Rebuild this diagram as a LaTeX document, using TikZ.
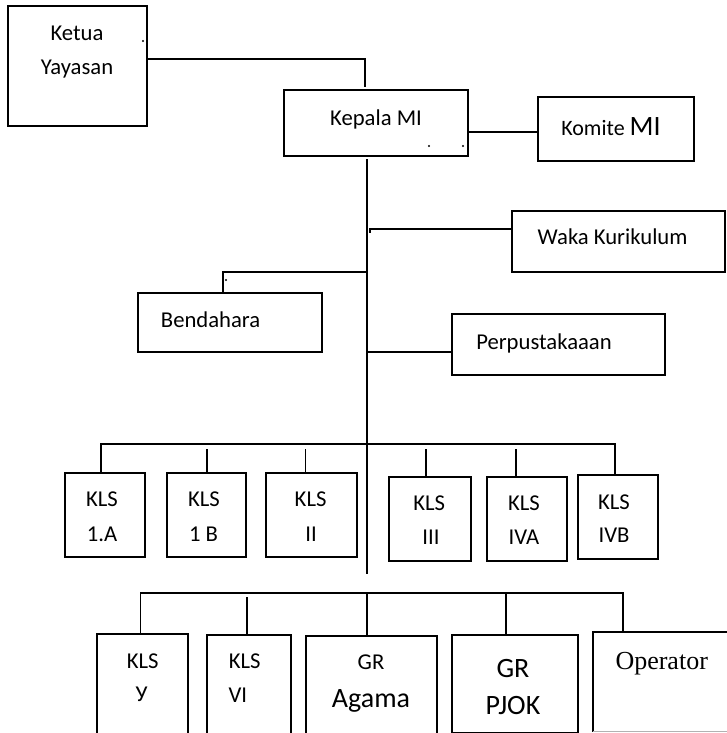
\documentclass[tikz,border=0pt]{standalone}
\usepackage{fontspec}
\setmainfont{Carlito}
\newfontfamily\opfont{Liberation Serif}
\begin{document}
\begin{tikzpicture}[x=0.75pt,y=-0.75pt]
\tikzset{
  box/.style={draw, line width=1.5pt, inner sep=0pt, outer sep=0pt},
  openbox/.style={draw=none, inner sep=0pt, outer sep=0pt},
  conn/.style={line width=1.35pt},
  txt/.style={inner sep=0pt, outer sep=0pt, text height=10.95pt, text depth=0pt, font=\fontsize{17}{20}\selectfont},
  bigtxt/.style={txt, text height=13.5pt, font=\fontsize{21}{24}\selectfont},
}
\newcommand\obox[6][box]{\node[#1,minimum width=#5*0.75pt,minimum height=#6*0.75pt] (#2) at (#3,#4) {};}
\useasboundingbox (0,0) rectangle (727,733);
\fill[white] (0,0) rectangle (727,733);
\clip (0,0) rectangle (727,733);
% boxes
\obox{ketua}{77.25}{66}{138.5}{120}
\obox{kepala}{376}{123}{184}{65.4}
\obox{komite}{616}{129}{156}{64.6}
\obox{waka}{618.5}{241.2}{213}{61}
\obox{bend}{230.2}{322.5}{184.4}{58.4}
\obox{perpus}{558.5}{344.5}{213}{61}
\obox{k1a}{105}{514.7}{80}{84}
\obox{k1b}{206.5}{515}{79}{84.6}
\obox{k2}{311.3}{514.9}{91.4}{84.3}
\obox{k3}{429.75}{518.9}{82.5}{84.3}
\obox{k4a}{527}{518.9}{80}{84.3}
\obox{k4b}{617.8}{516.9}{80.4}{84.3}
\obox{k5}{142.5}{689.5}{90.4}{111}
\obox{k6}{249}{689.9}{83.4}{110.3}
\obox{agama}{371.35}{690.35}{130.7}{109.3}
\obox{pjok}{515}{683.5}{125.4}{98}
\obox[openbox]{oper}{666.35}{681.9}{147.3}{99.2}
\draw[line width=1.5pt] (oper.south west) -- (oper.north west) -- (oper.north east);
\draw[line width=1pt, gray!60] (oper.south west) -- (oper.south east);
% texts
\node[txt] (t-ketua) at (77,33) {Ketua};
\node[txt] (t-yayasan) at (77,67) {Yayasan};
\node[txt] (t-kepala) at (376,118) {Kepala MI};
\node[txt, text height=10.6pt, font=\fontsize{16.5}{20}\selectfont] (t-komite) at (611,128.7) {Komite {\fontsize{21}{24}\selectfont MI}};
\node[txt] (t-waka) at (612.6,236.7) {Waka Kurikulum};
\node[txt] (t-bend) at (210.6,320) {Bendahara};
\node[txt] (t-perpus) at (544,341.7) {Perpustakaaan};
\node[txt] (t-1a-a) at (102,499.5) {KLS};
\node[txt] (t-1a-b) at (102,534.5) {1.A};
\node[txt] (t-1b-a) at (204,499.5) {KLS};
\node[txt] (t-1b-b) at (203.5,534.5) {1 B};
\node[txt] (t-2-a) at (310.6,499.5) {KLS};
\node[txt] (t-2-b) at (311,534.5) {II};
\node[txt] (t-3-a) at (429.3,503.3) {KLS};
\node[txt] (t-3-b) at (431,537) {III};
\node[txt] (t-4a-a) at (524,503.3) {KLS};
\node[txt] (t-4a-b) at (524,537) {IVA};
\node[txt] (t-4b-a) at (614,501.7) {KLS};
\node[txt] (t-4b-b) at (614,535) {IVB};
\node[txt] (t-5-a) at (142.8,660.8) {KLS};
\node[txt] (t-5-b) at (141.7,694.3) {У};
\node[txt] (t-6-a) at (244.7,660.8) {KLS};
\node[txt, anchor=west] (t-6-b) at (228.5,695) {VI};
\node[txt] (t-ag-a) at (371,661.7) {GR};
\node[bigtxt] (t-ag-b) at (371,698) {Agama};
\node[bigtxt] (t-pj-a) at (513,668.3) {GR};
\node[bigtxt] (t-pj-b) at (513,705) {PJOK};
\node[txt, text height=12.9pt, font=\opfont\fontsize{19.5}{22}\selectfont] (t-oper) at (661.7,660.8) {Operator};
% connectors
\coordinate (j1) at (365,59);
\coordinate (j2) at (365,87);
\draw[conn] (ketua.east |- j1) -- (j1) -- (j2);
\coordinate (kk) at (0,132);
\draw[conn] (kepala.east |- kk) -- (komite.west |- kk);
\coordinate (m0) at (367,159.3);
\coordinate (m1) at (367,574.3);
\draw[conn] (m0) -- (m1);
\coordinate (w0) at (370,232.5);
\coordinate (w1) at (370,229.3);
\draw[conn] (w0) -- (w1) -- (waka.west |- w1);
\coordinate (b0) at (367,271.7);
\coordinate (b1) at (223,271.7);
\draw[conn] (b0) -- (b1) -- (b1 |- bend.north);
\coordinate (p0) at (367,351.7);
\draw[conn] (p0) -- (perpus.west |- p0);
% bus 1
\coordinate (a0) at (100.6,444.3);
\coordinate (a1) at (615,444.3);
\draw[conn] (a0 |- k1a.north) -- (a0) -- (a1) -- (a1 |- k4b.north);
\coordinate (d1b) at (207,449);
\coordinate (d2) at (305.5,449);
\coordinate (d3) at (425.6,449);
\coordinate (d4a) at (516,449);
\draw[conn] (d1b) -- (d1b |- k1b.north);
\draw[conn] (d2) -- (d2 |- k2.north);
\draw[conn] (d3) -- (d3 |- k3.north);
\draw[conn] (d4a) -- (d4a |- k4a.north);
% bus 2
\coordinate (c0) at (140.5,593.3);
\coordinate (c1) at (622.6,593.3);
\draw[conn] (c0 |- k5.north) -- (c0) -- (c1) -- (c1 |- oper.north);
\coordinate (e6) at (246.6,597.3);
\coordinate (eag) at (367,593.3);
\coordinate (epj) at (505.8,593.3);
\draw[conn] (e6) -- (e6 |- k6.north);
\draw[conn] (eag) -- (eag |- agama.north);
\draw[conn] (epj) -- (epj |- pjok.north);
% stray dots
\fill (143,41) circle (0.9pt);
\fill (429,146) circle (0.9pt);
\fill (463,146) circle (0.9pt);
\fill (226,280) circle (0.9pt);
\end{tikzpicture}
\end{document}
